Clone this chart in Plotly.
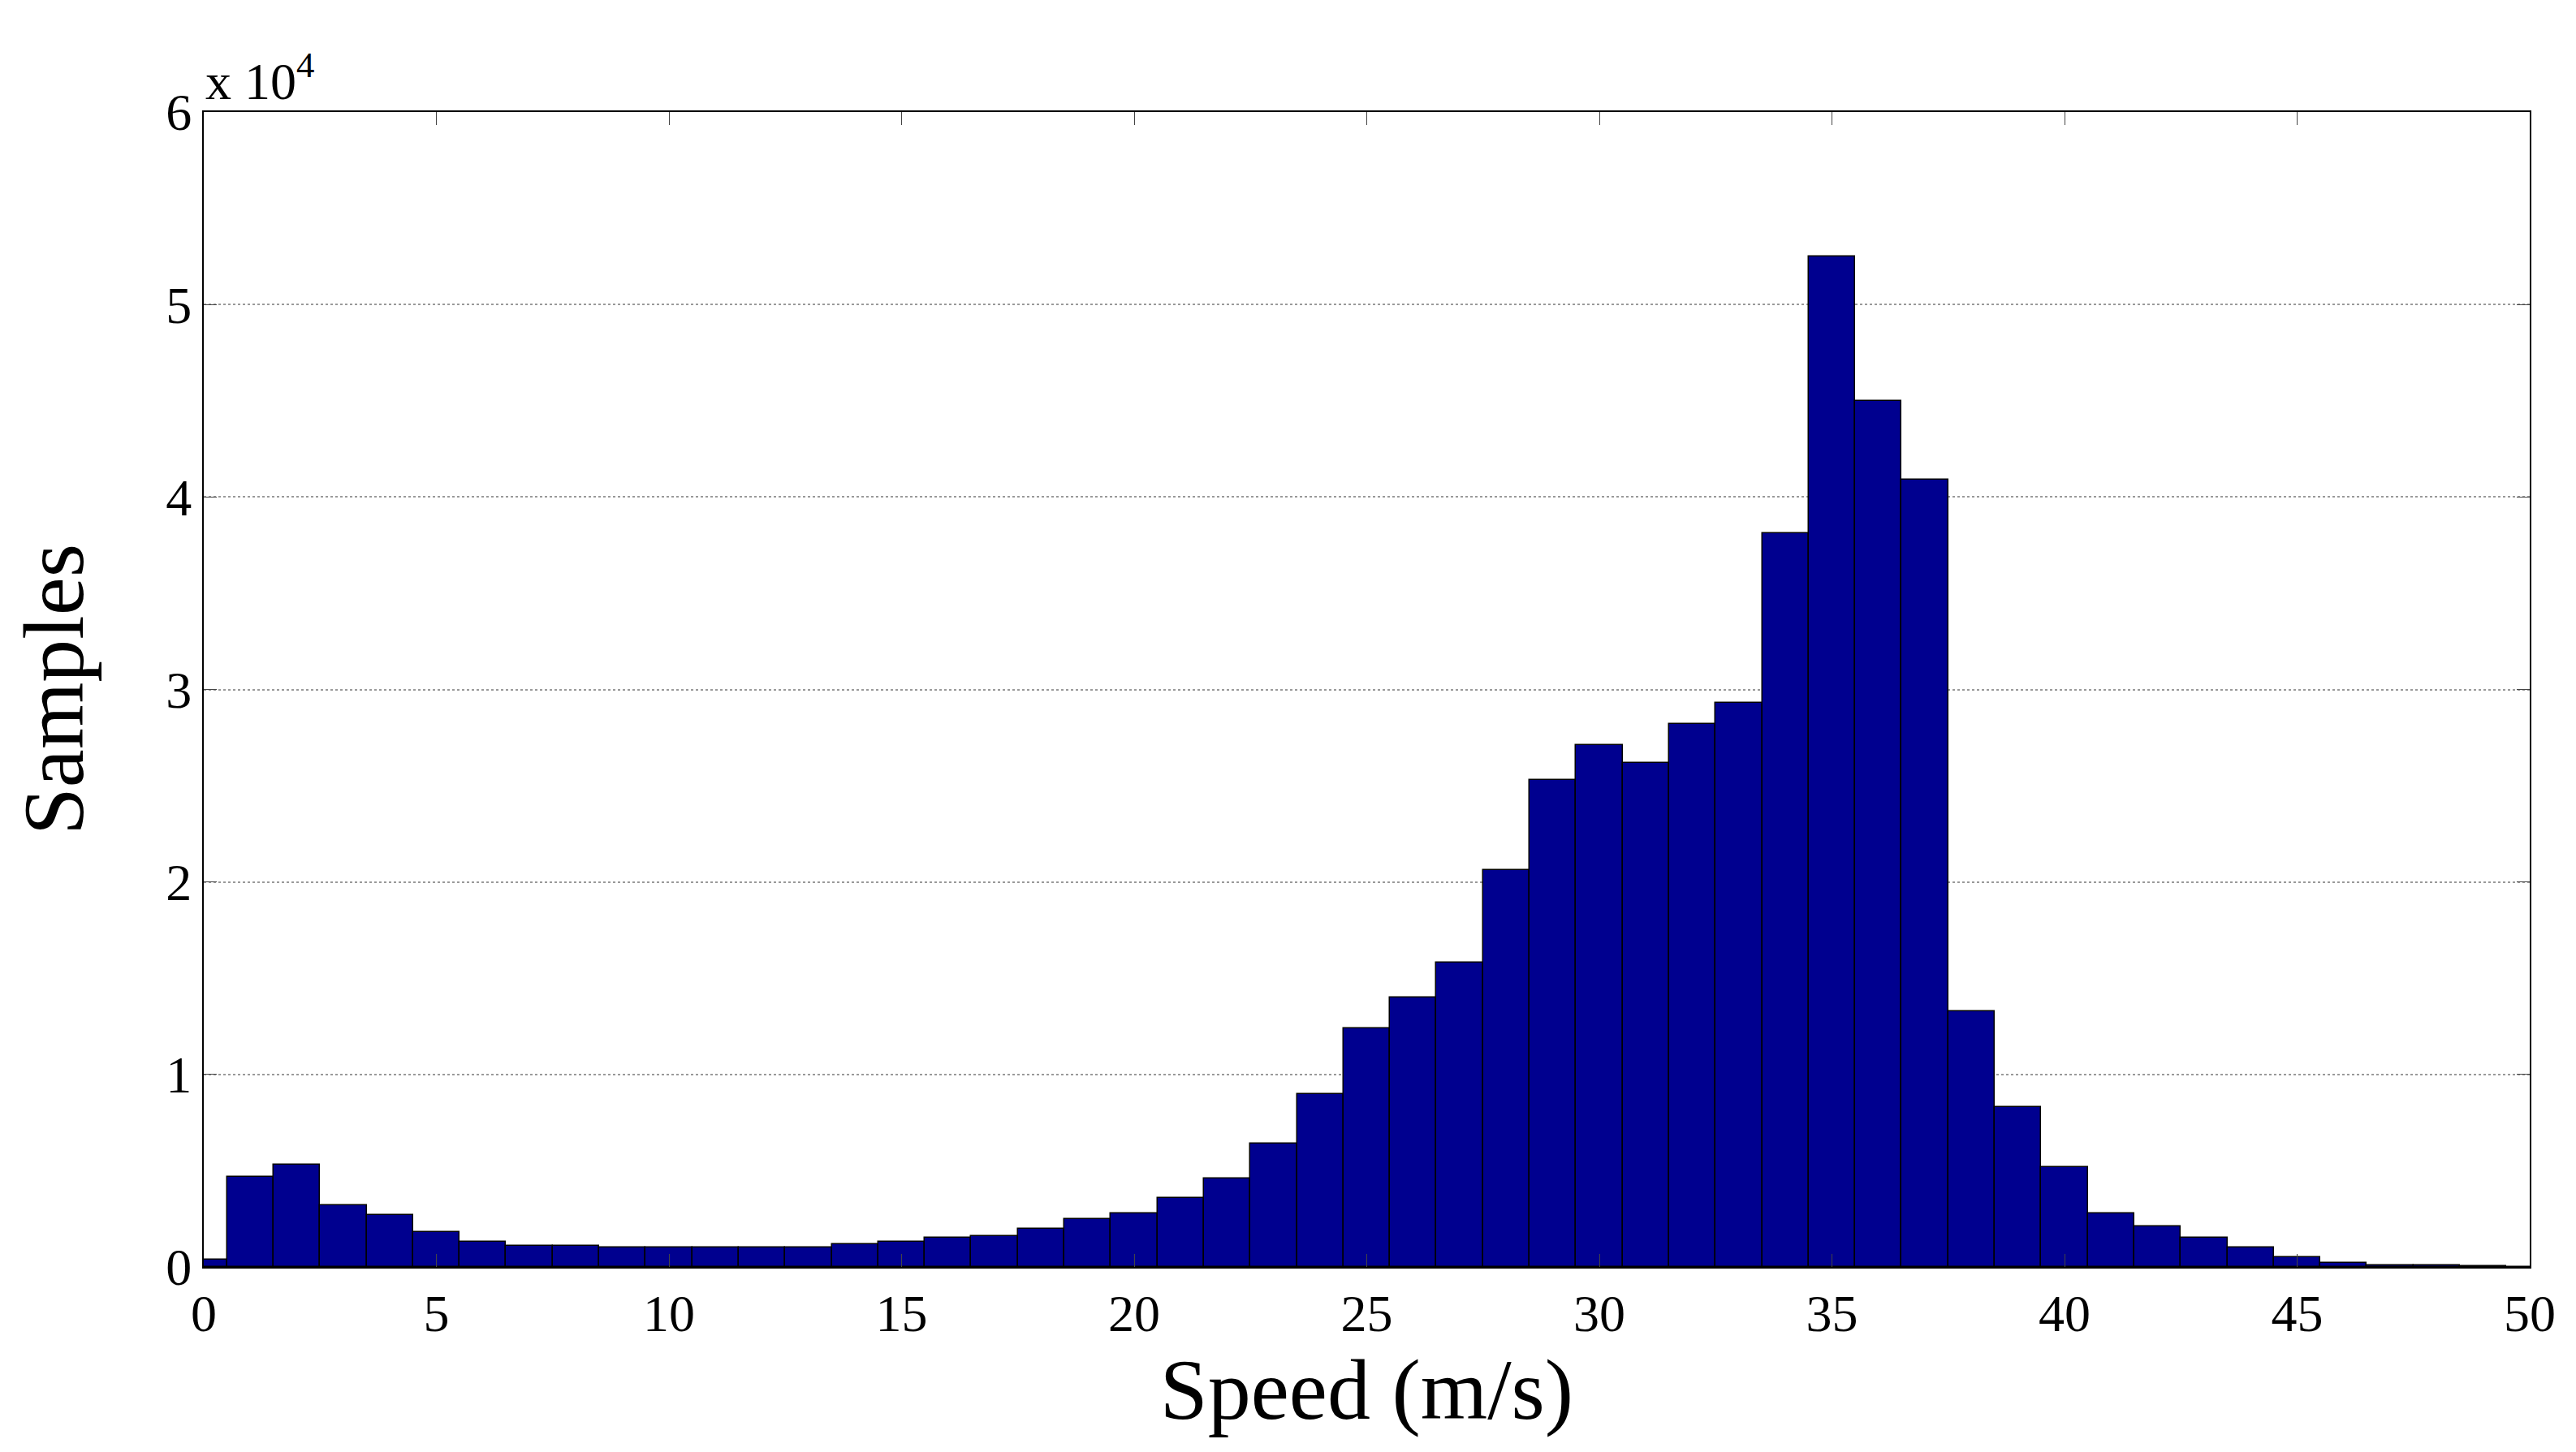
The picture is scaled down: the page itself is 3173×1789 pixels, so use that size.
import plotly.graph_objects as go

speeds = list(range(0, 51))
samples = [400, 4700, 5300, 3200, 2700, 1800, 1300, 1100, 1100, 1000,
           1000, 1000, 1000, 1000, 1200, 1300, 1500, 1600, 2000, 2500,
           2800, 3600, 4600, 6400, 9000, 12400, 14000, 15800, 20600, 25300,
           27100, 26200, 28200, 29300, 38100, 52500, 45000, 40900, 13300, 8300,
           5200, 2800, 2100, 1500, 1000, 500, 200, 100, 70, 40, 20]
yticks = [0, 1, 2, 3, 4, 5, 6]
xticks = [0, 5, 10, 15, 20, 25, 30, 35, 40, 45, 50]

font = "Liberation Serif"
fig = go.Figure(go.Bar(x=speeds, y=[s / 1e4 for s in samples], width=1,
                       marker=dict(color="#00008F", line=dict(color="black", width=1.5))))
fig.update_layout(
    width=3173, height=1789, plot_bgcolor="white", paper_bgcolor="white",
    margin=dict(l=241, r=65, t=130, b=236), showlegend=False, bargap=0,
    font=dict(family=font, size=64, color="black"),
)
fig.update_xaxes(range=[0, 50], tickvals=xticks, ticks="inside", ticklen=16,
                 tickfont=dict(family=font, size=64, color="black"),
                 showline=True, linecolor="black", linewidth=2, mirror="ticks",
                 showgrid=False, zeroline=False,
                 title=dict(text="Speed (m/s)", font=dict(family=font, size=106), standoff=0))
fig.update_yaxes(range=[0, 6], tickvals=yticks, ticks="inside", ticklen=16,
                 tickfont=dict(family=font, size=64, color="black"),
                 showline=True, linecolor="black", linewidth=2, mirror="ticks",
                 showgrid=True, gridcolor="#999999", griddash="dot", gridwidth=1.5,
                 zeroline=False,
                 title=dict(text="Samples", font=dict(family=font, size=106), standoff=110))
fig.add_annotation(xref="paper", yref="paper", x=0, y=1, xanchor="left", yanchor="bottom",
                   text="x 10<sup>4</sup>", showarrow=False, font=dict(family=font, size=64))
fig.write_html("out.html")
